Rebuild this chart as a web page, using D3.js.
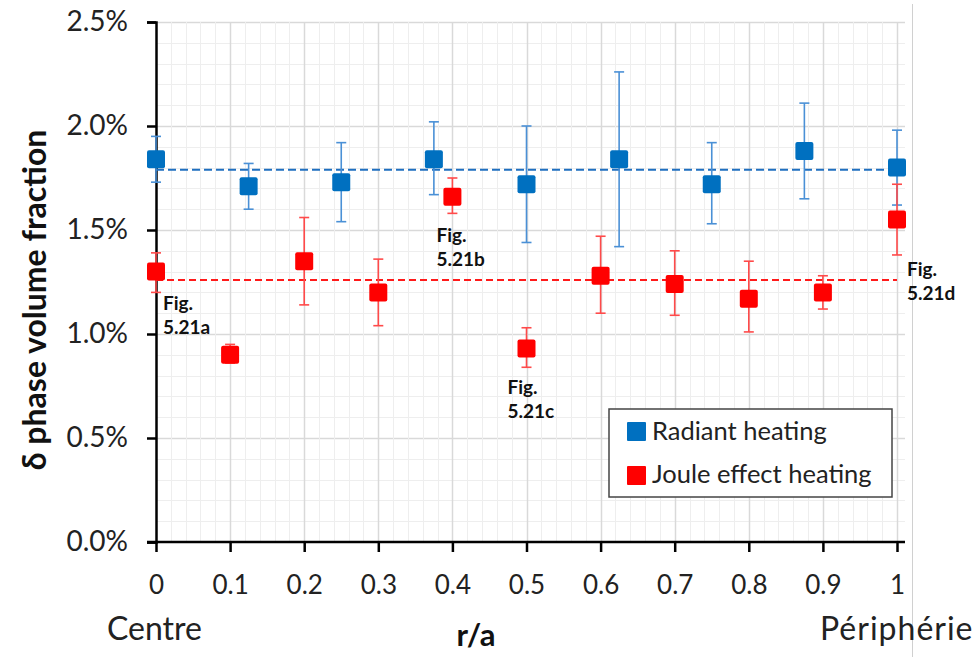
<!DOCTYPE html>
<html>
<head>
<meta charset="utf-8">
<script src="https://cdn.jsdelivr.net/npm/d3@7"></script>
<style>
  body { margin: 0; background: #fff; }
  svg { display: block; font-family: Lato, "Open Sans", sans-serif; }
</style>
</head>
<body>
<div id="chart"></div>
<script>
// δ phase volume fraction vs r/a, two heating methods

// Radiant heating (values in %)
const radiantX  = [0, 0.125, 0.25, 0.375, 0.5, 0.625, 0.75, 0.875, 1];
const radiantY  = [1.84, 1.71, 1.73, 1.84, 1.72, 1.84, 1.72, 1.88, 1.80];
const radiantHi = [1.95, 1.82, 1.92, 2.02, 2.00, 2.26, 1.92, 2.11, 1.98];
const radiantLo = [1.73, 1.60, 1.54, 1.67, 1.44, 1.42, 1.53, 1.65, 1.62];
const radiantMean = 1.79;

// Joule effect heating (values in %)
const jouleX  = [0, 0.1, 0.2, 0.3, 0.4, 0.5, 0.6, 0.7, 0.8, 0.9, 1];
const jouleY  = [1.30, 0.90, 1.35, 1.20, 1.66, 0.93, 1.28, 1.24, 1.17, 1.20, 1.55];
const jouleHi = [1.39, 0.95, 1.56, 1.36, 1.75, 1.03, 1.47, 1.40, 1.35, 1.28, 1.72];
const jouleLo = [1.20, 0.86, 1.14, 1.04, 1.58, 0.84, 1.10, 1.09, 1.01, 1.12, 1.38];
const jouleMean = 1.26;

const xTicks = [0, 0.1, 0.2, 0.3, 0.4, 0.5, 0.6, 0.7, 0.8, 0.9, 1];
const yTicks = [0, 0.5, 1.0, 1.5, 2.0, 2.5];

const figLabels = ['5.21a', '5.21b', '5.21c', '5.21d'];
const figPointIndex = [0, 4, 5, 10];   // which Joule point each label belongs to

const seriesNames = ['Radiant heating', 'Joule effect heating'];

// ---- layout ----
const W = 978, H = 657;
const mLeft = 156, mTop = 22, plotW = 741, plotH = 520;
const plotRight = 905;

const svg = d3.select('#chart').append('svg')
    .attr('width', W).attr('height', H);

const x = d3.scaleLinear().domain([0, 1]).range([mLeft, mLeft + plotW]);
const y = d3.scaleLinear().domain([0, 2.5]).range([mTop + plotH, mTop]);

// right border line of the picture
svg.append('line')
    .attr('x1', 912.5).attr('x2', 912.5).attr('y1', 4).attr('y2', H)
    .attr('stroke', '#d0d0d0').attr('stroke-width', 1);

// grid: minor then major
const grid = svg.append('g');
d3.range(1, 26).forEach(i => {
    const v = i / 10;
    const major = i % 5 === 0;
    grid.append('line')
        .attr('x1', mLeft).attr('x2', plotRight)
        .attr('y1', Math.round(y(v)) + 0.5).attr('y2', Math.round(y(v)) + 0.5)
        .attr('stroke', major ? '#d9d9d9' : '#eeeeee').attr('stroke-width', major ? 1.5 : 1);
});
d3.range(1, 51).forEach(i => {
    const v = i / 50;
    const major = i % 5 === 0;
    grid.append('line')
        .attr('x1', Math.round(x(v)) + 0.5).attr('x2', Math.round(x(v)) + 0.5)
        .attr('y1', mTop).attr('y2', mTop + plotH)
        .attr('stroke', major ? '#d9d9d9' : '#eeeeee').attr('stroke-width', major ? 1.5 : 1);
});

// axes
const yAxis = svg.append('g')
    .attr('transform', `translate(${mLeft},0)`)
    .call(d3.axisLeft(y).tickValues(yTicks).tickSize(9).tickPadding(19)
        .tickFormat(d => d.toFixed(1) + '%'));
const xAxis = svg.append('g')
    .attr('transform', `translate(0,${mTop + plotH})`)
    .call(d3.axisBottom(x).tickValues(xTicks).tickSize(10).tickPadding(24)
        .tickFormat(d => d === 0 || d === 1 ? String(d) : d.toFixed(1)));

[yAxis, xAxis].forEach(a => {
    a.select('.domain').attr('stroke', '#000').attr('stroke-width', 2.5);
    a.selectAll('.tick line').attr('stroke', '#000').attr('stroke-width', 2.5);
    a.selectAll('.tick text').attr('fill', '#222').style('font-family', 'Lato, sans-serif');
});
yAxis.selectAll('.tick text').style('font-size', '28px');
xAxis.selectAll('.tick text').style('font-size', '26px');
// extend x axis line to plot edge
xAxis.select('.domain').attr('d', `M${mLeft - 9},0H${plotRight}`);

// mean lines
svg.append('line')
    .attr('x1', x(0)).attr('x2', plotRight)
    .attr('y1', y(radiantMean)).attr('y2', y(radiantMean))
    .attr('stroke', '#1F6FC0').attr('stroke-width', 2).attr('stroke-dasharray', '8,4');
svg.append('line')
    .attr('x1', x(0)).attr('x2', x(1))
    .attr('y1', y(jouleMean)).attr('y2', y(jouleMean))
    .attr('stroke', '#FF1A1A').attr('stroke-width', 2).attr('stroke-dasharray', '7,4');

function drawSeries(xs, ys, his, los, fill, barColor) {
    const g = svg.append('g');
    const cap = 5;
    xs.forEach((xv, i) => {
        const cx = x(xv);
        g.append('line')
            .attr('x1', cx).attr('x2', cx).attr('y1', y(his[i])).attr('y2', y(los[i]))
            .attr('stroke', barColor).attr('stroke-width', 1.6);
        [his[i], los[i]].forEach(v => {
            g.append('line')
                .attr('x1', cx - cap).attr('x2', cx + cap).attr('y1', y(v)).attr('y2', y(v))
                .attr('stroke', barColor).attr('stroke-width', 1.6);
        });
    });
    g.selectAll('rect').data(xs).enter().append('rect')
        .attr('x', d => x(d) - 9)
        .attr('y', (d, i) => y(ys[i]) - 9)
        .attr('width', 18).attr('height', 18)
        .attr('rx', 2)
        .attr('fill', fill);
}

drawSeries(radiantX, radiantY, radiantHi, radiantLo, '#0070C0', '#4A90D6');
drawSeries(jouleX, jouleY, jouleHi, jouleLo, '#FF0000', '#FF4A4A');

// figure annotations
const figOffsets = [[7, 38], [-16, 45], [-19, 45], [10, 56]];
figLabels.forEach((lab, k) => {
    const i = figPointIndex[k];
    const tx = x(jouleX[i]) + figOffsets[k][0];
    const ty = y(jouleY[i]) + figOffsets[k][1];
    const t = svg.append('text')
        .attr('x', tx).attr('y', ty)
        .attr('font-size', 19).attr('font-weight', 'bold').attr('fill', '#111');
    t.append('tspan').attr('x', tx).text('Fig.');
    t.append('tspan').attr('x', tx).attr('dy', 24).text(lab);
});

// legend
const lg = svg.append('g').attr('transform', 'translate(609,409)');
lg.append('rect').attr('width', 283).attr('height', 88)
    .attr('fill', '#fff').attr('stroke', '#444').attr('stroke-width', 1.5);
[['#0070C0', 0], ['#FF0000', 1]].forEach(([c, i]) => {
    lg.append('rect').attr('x', 18).attr('y', 13 + i * 44).attr('width', 19).attr('height', 19)
        .attr('rx', 1).attr('fill', c);
    lg.append('text').attr('x', 43).attr('y', 31 + i * 43)
        .attr('font-size', 25.5).attr('fill', '#222').text(seriesNames[i]);
});

// axis titles
svg.append('text')
    .attr('transform', `translate(46,300) rotate(-90)`)
    .attr('text-anchor', 'middle')
    .attr('font-size', 32).attr('font-weight', 'bold').attr('fill', '#111')
    .text('δ phase volume fraction');
svg.append('text')
    .attr('x', 476).attr('y', 646).attr('text-anchor', 'middle')
    .attr('font-size', 31).attr('font-weight', 'bold').attr('fill', '#111')
    .text('r/a');
svg.append('text')
    .attr('x', 107).attr('y', 640)
    .attr('font-size', 32).attr('fill', '#222').text('Centre');
svg.append('text')
    .attr('x', 820).attr('y', 640)
    .attr('font-size', 32).attr('letter-spacing', 1).attr('fill', '#222').text('Périphérie');
</script>
</body>
</html>
